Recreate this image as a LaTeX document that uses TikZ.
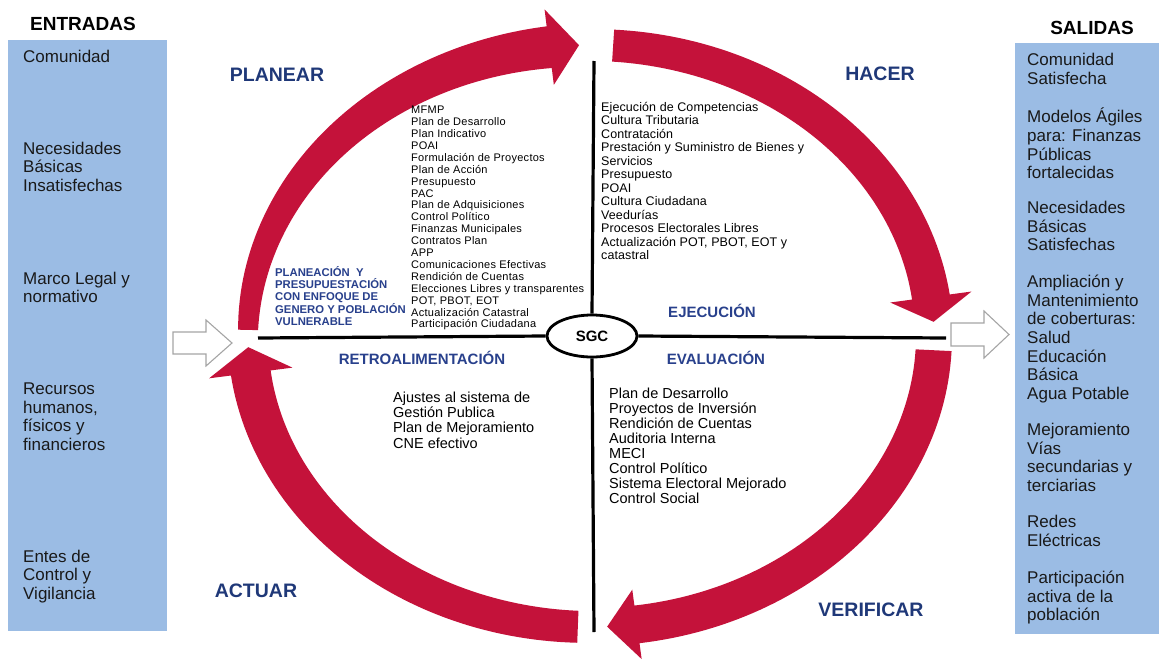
\documentclass[tikz,border=0pt]{standalone}
\usepackage{fontspec}
\setmainfont{Liberation Sans}
\usetikzlibrary{shapes.geometric}
\definecolor{pdcared}{RGB}{196,18,58}
\definecolor{boxblue}{RGB}{155,188,228}
\definecolor{navy}{RGB}{31,56,120}
\definecolor{midblue}{RGB}{40,64,140}
\definecolor{hollowgray}{RGB}{165,165,165}
\definecolor{txt}{RGB}{25,25,25}

% tapered elliptic arc arrow: t1 t2 h1 h2 H ttip
\newcommand{\pdcaArc}[6]{%
 \fill[pdcared]
  plot[domain=#1:#2, samples=60] ({591+(343+#3+(#4-#3)*(\x-(#1))/((#2)-(#1)))*cos(\x)}, {336-(291+#3+(#4-#3)*(\x-(#1))/((#2)-(#1)))*sin(\x)})
  -- ({591+(343+#5)*cos(#2)}, {336-(291+#5)*sin(#2)})
  -- ({591+343*cos(#6)}, {336-291*sin(#6)})
  -- ({591+(343-#5)*cos(#2)}, {336-(291-#5)*sin(#2)})
  -- plot[domain=#2:#1, samples=60] ({591+(343-#3-(#4-#3)*(\x-(#1))/((#2)-(#1)))*cos(\x)}, {336-(291-#3-(#4-#3)*(\x-(#1))/((#2)-(#1)))*sin(\x)})
  -- cycle;}

\tikzset{
  sidebox/.style={fill=boxblue, draw=none, inner sep=0, anchor=north west},
  boxtxt/.style={anchor=north west, inner sep=0, align=left, text=txt, font=\fontsize{17}{18.6}\selectfont},
  header/.style={inner sep=0, text=black, font=\bfseries\fontsize{19}{22}\selectfont},
  phase/.style={inner sep=0, text=navy, font=\bfseries\fontsize{19.5}{22}\selectfont},
  subphase/.style={inner sep=0, text=midblue, font=\bfseries\fontsize{15}{17}\selectfont},
  smalllist/.style={anchor=north west, inner sep=0, align=left, text=black, font=\fontsize{11}{11.9}\selectfont\addfontfeature{LetterSpace=2.5}},
  midlist/.style={anchor=north west, inner sep=0, align=left, text=black, font=\fontsize{12.5}{13.5}\selectfont\addfontfeature{LetterSpace=0.8}},
  biglist/.style={anchor=north west, inner sep=0, align=left, text=black, font=\fontsize{14.5}{15.1}\selectfont},
  axis/.style={line width=3.2pt, black},
  hollow/.style={fill=white, draw=hollowgray, line width=1.1pt, line join=miter},
}

\begin{document}
\begin{tikzpicture}[x=1pt, y=-1pt]
\useasboundingbox (0,0) rectangle (1160,664);

% side boxes
\node[sidebox, minimum width=159pt, minimum height=591pt] (inbox) at (8,40) {};
\node[sidebox, minimum width=144pt, minimum height=591pt] (outbox) at (1015,43) {};
\node[header] (entradas) at (83,24) {ENTRADAS};
\node[header] (salidas) at (1092,28) {SALIDAS};

% left box content
\node[boxtxt] (e1) at (23,49.5) {Comunidad};
\node[boxtxt] (e2) at (23,141.5) {Necesidades\\Básicas\\Insatisfechas};
\node[boxtxt] (e3) at (23,271.5) {Marco Legal y\\normativo};
\node[boxtxt] (e4) at (23,382.5) {Recursos\\humanos,\\físicos y\\financieros};
\node[boxtxt] (e5) at (23,549.5) {Entes de\\Control y\\Vigilancia};

% right box content
\node[boxtxt] (s1) at (1027,53) {Comunidad\\Satisfecha};
\node[boxtxt] (s2) at (1027,108) {Modelos Ágiles\\para: Finanzas\\Públicas\\fortalecidas};
\node[boxtxt] (s3) at (1027,201) {Necesidades\\Básicas\\Satisfechas};
\node[boxtxt] (s4) at (1027,275) {Ampliación y\\Mantenimiento\\de coberturas:\\Salud\\Educación\\Básica\\Agua Potable};
\node[boxtxt] (s5) at (1027,423) {Mejoramiento\\Vías\\secundarias y\\terciarias};
\node[boxtxt] (s6) at (1027,515) {Redes\\Eléctricas};
\node[boxtxt] (s7) at (1027,571) {Participación\\activa de la\\población};

% cycle arrows
\pdcaArc{178.8}{97}{10}{21}{38}{92}
\pdcaArc{86.3}{7.7}{16}{19}{41}{2.8}
\pdcaArc{-2.8}{-82.3}{18}{19}{35}{-87.3}
\pdcaArc{-92.2}{-172.7}{16}{20}{42}{-177.8}

% hollow in/out arrows
\draw[hollow] (173,332) -- (206,332) -- (206,320) -- (232,343) -- (206,366) -- (206,354) -- (173,354) -- cycle;
\draw[hollow] (951,323) -- (984,323) -- (984,311) -- (1009,334.5) -- (984,358) -- (984,346) -- (951,346) -- cycle;

% axes and SGC
\node[ellipse, draw, line width=2.8pt, fill=white, minimum width=90pt, minimum height=42pt, inner sep=0,
      font=\bfseries\fontsize{15}{17}\selectfont] (sgc) at (592,336) {SGC};
\coordinate (vtop) at (594,61);
\coordinate (vbot) at (594,632);
\coordinate (hleft) at (258,338);
\coordinate (hright) at (946,338);
\draw[axis] (vtop) -- (sgc.north);
\draw[axis] (sgc.south) -- (vbot);
\draw[axis] (hleft) -- (sgc.west);
\draw[axis] (sgc.east) -- (hright);

% phase labels
\node[phase] (planear) at (277,75) {PLANEAR};
\node[phase] (hacer) at (880,74) {HACER};
\node[phase] (actuar) at (256,591) {ACTUAR};
\node[phase] (verificar) at (871,610) {VERIFICAR};
\node[subphase] (ejec) at (712,311) {EJECUCIÓN};
\node[subphase] (eval) at (716,358) {EVALUACIÓN};
\node[subphase] (retro) at (422,358) {RETROALIMENTACIÓN};

% lists
\node[anchor=north west, inner sep=0, align=left, text=midblue, font=\bfseries\fontsize{11.3}{12}\selectfont] (plan) at (275,266)
 {PLANEACIÓN\ \ Y\\PRESUPUESTACIÓN\\CON ENFOQUE DE\\GENERO Y POBLACIÓN\\VULNERABLE};
\node[smalllist] (planlist) at (411,106)
 {MFMP\\Plan de Desarrollo\\Plan Indicativo\\POAI\\Formulación de Proyectos\\Plan de Acción\\Presupuesto\\PAC\\Plan de Adquisiciones\\Control Político\\Finanzas Municipales\\Contratos Plan\\APP\\Comunicaciones Efectivas\\Rendición de Cuentas\\Elecciones Libres y transparentes\\POT, PBOT, EOT\\Actualización Catastral\\Participación Ciudadana};
\node[midlist] (hacerlist) at (601,102)
 {Ejecución de Competencias\\Cultura Tributaria\\Contratación\\Prestación y Suministro de Bienes y\\Servicios\\Presupuesto\\POAI\\Cultura Ciudadana\\Veedurías\\Procesos Electorales Libres\\Actualización POT, PBOT, EOT y\\catastral};
\node[biglist] (actuarlist) at (393,392)
 {Ajustes al sistema de\\Gestión Publica\\Plan de Mejoramiento\\CNE efectivo};
\node[biglist] (veriflist) at (609,387.5)
 {Plan de Desarrollo\\Proyectos de Inversión\\Rendición de Cuentas\\Auditoria Interna\\MECI\\Control Político\\Sistema Electoral Mejorado\\Control Social};
\end{tikzpicture}
\end{document}
